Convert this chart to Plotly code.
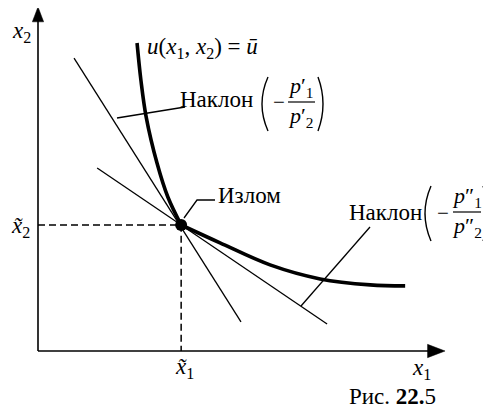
import plotly.graph_objects as go

# indifference curve u(x1, x2) = u-bar, two branches meeting at the kink
kink_x = 4.09
kink_y = 3.60
upper_x = [2.83, 2.94, 3.09, 3.40, 3.71, 4.09]
upper_y = [8.80, 7.74, 6.69, 5.37, 4.40, 3.60]
lower_x = [4.09, 5.20, 6.63, 8.06, 9.49, 10.49]
lower_y = [3.60, 3.09, 2.46, 2.06, 1.89, 1.86]

# budget lines touching the kink
steep_x = [1.03, 5.80]
steep_y = [8.37, 0.83]
flat_x = [1.69, 8.26]
flat_y = [5.23, 0.77]

# axis ends
x_axis_end = 11.63
y_axis_end = 9.83

# pixel -> data helper (35 px per unit, origin at pixel 38, 351)
S = 35.0
OX, OY = 38.0, 351.0
PAD = 8  # page margin around the plot div

# arrowhead size in data units
HEAD_LEN = 0.5
HEAD_HALF = 0.19


def P(px, py):
    return (px - OX) / S, (OY - py) / S


FONT = "Liberation Serif"
BLACK = "#000000"

fig = go.Figure()

# axes
fig.add_trace(go.Scatter(x=[0, x_axis_end - 0.2], y=[0, 0], mode="lines",
                         line=dict(color=BLACK, width=1.6), hoverinfo="skip"))
fig.add_trace(go.Scatter(x=[0, 0], y=[0, y_axis_end - 0.2], mode="lines",
                         line=dict(color=BLACK, width=1.6), hoverinfo="skip"))
fig.add_trace(go.Scatter(
    x=[x_axis_end, x_axis_end - HEAD_LEN, x_axis_end - HEAD_LEN, x_axis_end],
    y=[0, HEAD_HALF, -HEAD_HALF, 0],
    mode="lines", fill="toself", fillcolor=BLACK,
    line=dict(color=BLACK, width=0.5), hoverinfo="skip"))
fig.add_trace(go.Scatter(
    x=[0, HEAD_HALF * 0.85, -HEAD_HALF * 0.85, 0],
    y=[y_axis_end, y_axis_end - HEAD_LEN * 0.85, y_axis_end - HEAD_LEN * 0.85, y_axis_end],
    mode="lines", fill="toself", fillcolor=BLACK,
    line=dict(color=BLACK, width=0.5), hoverinfo="skip"))

# dashed guides to the kink
fig.add_trace(go.Scatter(x=[0, kink_x, kink_x], y=[kink_y, kink_y, 0], mode="lines",
                         line=dict(color=BLACK, width=1.5, dash="7px,4px"),
                         hoverinfo="skip"))

# budget lines
fig.add_trace(go.Scatter(x=steep_x, y=steep_y, mode="lines",
                         line=dict(color=BLACK, width=1.3), hoverinfo="skip"))
fig.add_trace(go.Scatter(x=flat_x, y=flat_y, mode="lines",
                         line=dict(color=BLACK, width=1.3), hoverinfo="skip"))

# indifference curve
fig.add_trace(go.Scatter(x=upper_x, y=upper_y, mode="lines", line_shape="spline",
                         line=dict(color=BLACK, width=3.6), hoverinfo="skip"))
fig.add_trace(go.Scatter(x=lower_x, y=lower_y, mode="lines", line_shape="spline",
                         line=dict(color=BLACK, width=3.6), hoverinfo="skip"))

# leader lines
for pts in [[(117, 118), (185, 107)],
            [(184, 218), (197, 200), (215, 200)],
            [(301, 306), (370, 227)]]:
    xs, ys = zip(*[P(*p) for p in pts])
    fig.add_trace(go.Scatter(x=list(xs), y=list(ys), mode="lines",
                             line=dict(color=BLACK, width=1.3), hoverinfo="skip"))

# kink point
fig.add_trace(go.Scatter(x=[kink_x], y=[kink_y], mode="markers",
                         marker=dict(size=12, color=BLACK), hoverinfo="skip"))


def label(px, py, text, size=23, anchor="center"):
    x, y = P(px, py)
    fig.add_annotation(x=x, y=y, text=text, showarrow=False, xanchor=anchor,
                       yanchor="middle", font=dict(family=FONT, size=size, color=BLACK))


def paren(x0, xm, y0, y1):
    ax, ay = P(x0, y0)
    cx, cy = P(2 * xm - x0, (y0 + y1) / 2)
    bx, by = P(x0, y1)
    fig.add_shape(type="path",
                  path=f"M {ax:.4f},{ay:.4f} Q {cx:.4f},{cy:.4f} {bx:.4f},{by:.4f}",
                  line=dict(color=BLACK, width=1.4))


def hbar(x0, x1, py):
    a = P(x0, py)
    b = P(x1, py)
    fig.add_shape(type="path",
                  path=f"M {a[0]:.4f},{a[1]:.4f} L {b[0]:.4f},{b[1]:.4f}",
                  line=dict(color=BLACK, width=1.2))


label(21, 32, "<i>x</i><sub>2</sub>")
label(20, 227, "<i>x̃</i><sub>2</sub>")
label(184, 368, "<i>x̃</i><sub>1</sub>")
label(421, 369, "<i>x</i><sub>1</sub>")
label(145, 48, "<i>u</i>(<i>x</i><sub>1</sub>, <i>x</i><sub>2</sub>) = <i>ū</i>", anchor="left")
label(216, 195, "Излом", anchor="left")
label(347, 396, "Рис. <b>22.</b>5", anchor="left")

# slope label 1
label(178, 99, "Наклон", anchor="left")
paren(268, 262, 77, 131)
paren(318, 323, 77, 131)
label(279, 102, "−", size=21)
hbar(288, 315, 102)
label(301, 87, "<i>p</i>′<sub>1</sub>", size=22)
label(301, 117, "<i>p</i>′<sub>2</sub>", size=22)

# slope label 2
label(347, 212, "Наклон", anchor="left")
paren(431, 425, 186, 241)
paren(483, 488, 186, 241)
label(443, 213, "−", size=21)
hbar(453, 481, 212)
label(467, 197, "<i>p</i>″<sub>1</sub>", size=22)
label(467, 227, "<i>p</i>″<sub>2</sub>", size=22)

# the page puts the plot div PAD px from the top-left corner
x0, _ = P(PAD, 0)
x1, _ = P(491, 0)
_, y0 = P(0, 410)
_, y1 = P(0, PAD)

fig.update_layout(
    width=491 - PAD,
    height=410 - PAD,
    margin=dict(l=0, r=0, t=0, b=0),
    paper_bgcolor="white",
    plot_bgcolor="white",
    showlegend=False,
    xaxis=dict(range=[x0, x1], visible=False, fixedrange=True),
    yaxis=dict(range=[y0, y1], visible=False, fixedrange=True),
)

fig.write_html("out.html")
